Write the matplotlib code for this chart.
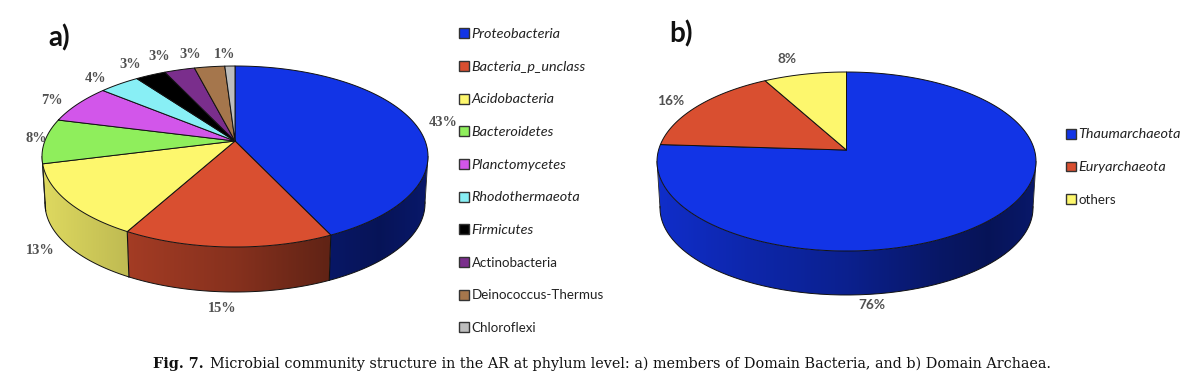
import numpy as np
import matplotlib
matplotlib.use('Agg')
import matplotlib.pyplot as plt
from matplotlib.legend import Legend
from matplotlib.patches import Patch, Polygon

# DATA
bacteria_names = ['Proteobacteria', 'Bacteria_p_unclass', 'Acidobacteria', 'Bacteroidetes',
                  'Planctomycetes', 'Rhodothermaeota', 'Firmicutes', 'Actinobacteria',
                  'Deinococcus-Thermus', 'Chloroflexi']
bacteria_values = [43, 15, 13, 8, 7, 4, 3, 3, 3, 1]
bacteria_italic = [True, True, True, True, True, True, True, False, False, False]
bacteria_colors = ['#1234e6', '#d94f30', '#fdf76d', '#8fee5c', '#d256ea',
                   '#88eff5', '#000000', '#7a2e8c', '#a5764c', '#bdbdbd']

archaea_names = ['Thaumarchaeota', 'Euryarchaeota', 'others']
archaea_values = [76, 16, 8]
archaea_italic = [True, True, False]
archaea_colors = ['#1234e6', '#d94f30', '#fdf76d']

caption_bold = 'Fig. 7.'
caption_text = 'Microbial community structure in the AR at phylum level: a) members of Domain Bacteria, and b) Domain Archaea.'

SERIF = 'Liberation Serif'
CAPTION = 'DejaVu Serif'
SANS = 'Lato'


# PERSPECTIVE OF A FLAT DISC, APEX SITS ABOVE THE ELLIPSE CENTRE
def disc_points(theta, a):
    x = np.sin(theta)
    y = np.cos(theta)
    den = 1 + a * y
    return x * np.sqrt(1 - a * a) / den, (y + a) / den


# SIDE SHADING ACROSS THE PIE WIDTH
def shade_strip(color):
    u = np.linspace(-1, 1, 500)
    f = np.interp(u, [-1, -0.5, 0, 0.5, 0.75, 1], [0.88, 0.74, 0.62, 0.44, 0.38, 0.46])
    return (np.array(matplotlib.colors.to_rgb(color))[None, None, :] * f[None, :, None])


def pie_3d(ax, values, colors, cx, cy, rx, ry, a, cy2, rx2, ry2):
    edges = np.cumsum([0] + values) / sum(values) * 2 * np.pi
    apex = (cx, cy - a * ry)
    for i in range(len(values)):
        theta = np.linspace(edges[i], edges[i + 1], max(int(values[i] * 8), 8))
        x, y = disc_points(theta, a)
        top_x, top_y = cx + rx * x, cy - ry * y
        low = y <= 0.02
        if low.any():
            # side wall of this slice, front half only
            bot_x, bot_y = cx + rx2 * x[low], cy2 - ry2 * y[low]
            outline = np.c_[np.r_[top_x[low], bot_x[::-1]], np.r_[top_y[low], bot_y[::-1]]]
            wall = Polygon(outline, closed=True, transform=ax.transData, facecolor='none', edgecolor='none')
            ax.add_patch(wall)
            im = ax.imshow(shade_strip(colors[i]), extent=(cx - rx, cx + rx, cy2 + ry2 + 2, cy - ry),
                           aspect='auto', interpolation='bilinear', zorder=2)
            im.set_clip_path(wall)
            ax.plot(bot_x, bot_y, color='#111111', lw=0.7, zorder=3)
        if y[0] < 0:
            ax.plot([top_x[0], cx + rx2 * x[0]], [top_y[0], cy2 - ry2 * y[0]],
                    color='#111111', lw=0.8, zorder=3)
        # top face
        ax.fill(np.r_[apex[0], top_x], np.r_[apex[1], top_y], facecolor=colors[i],
                edgecolor='#111111', lw=0.7, zorder=4, joinstyle='round')
    # silhouette lines at the ellipse sides
    for sx in (-1, 1):
        ax.plot([cx + sx * rx, cx + sx * rx2], [cy, cy2], color='#222222', lw=0.6, zorder=3)


def add_legend(ax, names, colors, italic, x, y, spacing, size, italic_size):
    handles = [Patch(facecolor=c, edgecolor='#333333', lw=1.0) for c in colors]
    leg = Legend(ax, handles, names, loc='upper left', bbox_to_anchor=(x, y),
                 bbox_transform=ax.transData, frameon=False, borderpad=0, borderaxespad=0,
                 handlelength=0.75, handleheight=0.75, handletextpad=0.2,
                 labelspacing=spacing, prop={'family': SANS, 'size': size})
    for t, it in zip(leg.get_texts(), italic):
        t.set_color('#222222')
        if it:
            t.set_fontstyle('italic')
            t.set_fontsize(italic_size)
    ax.add_artist(leg)
    return leg


fig = plt.figure(figsize=(12, 3.9), dpi=100)
ax = fig.add_axes([0, 0, 1, 1])

# a) BACTERIA
pie_3d(ax, bacteria_values, bacteria_colors, 235, 156.5, 193, 90.5, 0.171, 203.5, 190, 88.5)
# b) ARCHAEA
pie_3d(ax, archaea_values, archaea_colors, 846.5, 161.5, 189.5, 89.5, 0.128, 208, 186.5, 87)

ax.set_xlim(0, 1200)
ax.set_ylim(390, 0)
ax.axis('off')

bacteria_label_pos = [(443, 122), (222, 308), (40, 251), (36, 138), (52, 100),
                      (96, 78), (130, 64), (159, 57), (190, 54), (225, 54)]
for v, p in zip(bacteria_values, bacteria_label_pos):
    ax.text(p[0], p[1], f'{v}%', family=SERIF, weight='bold', fontsize=10.4, color='#505050',
            ha='center', va='center', zorder=6)
ax.text(48, 38, 'a)', family=SANS, weight='bold', fontsize=20, color='#111111', ha='left', va='center')
add_legend(ax, bacteria_names, bacteria_colors, bacteria_italic, 459, 28, 1.55, 9.6, 10.4)

archaea_label_pos = [(872, 305), (671, 101), (787, 59)]
for v, p in zip(archaea_values, archaea_label_pos):
    ax.text(p[0], p[1], f'{v}%', family=SANS, weight='bold', fontsize=9.8, color='#505050',
            ha='center', va='center', zorder=6)
ax.text(669, 34, 'b)', family=SANS, weight='bold', fontsize=20, color='#111111', ha='left', va='center')
add_legend(ax, archaea_names, archaea_colors, archaea_italic, 1066, 128.5, 1.55, 9.6, 10.4)

# CAPTION
ax.text(153, 364, caption_bold, family=CAPTION, weight='bold', fontsize=10.35, color='#111111',
        ha='left', va='center')
ax.text(210, 364, caption_text, family=CAPTION, fontsize=10.35, color='#111111', ha='left', va='center')

fig.savefig('out.png', dpi=100, facecolor='white')
